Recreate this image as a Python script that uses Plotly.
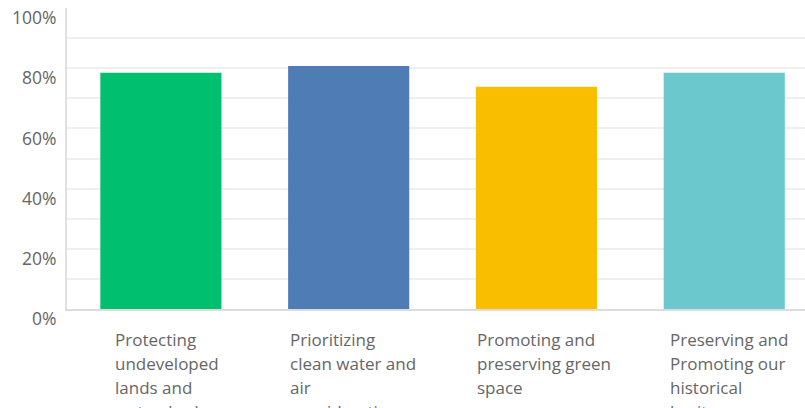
import plotly.graph_objects as go

categories = [
    "Protecting<br>undeveloped<br>lands and<br>watersheds",
    "Prioritizing<br>clean water and<br>air<br>considerations",
    "Promoting and<br>preserving green<br>space",
    "Preserving and<br>Promoting our<br>historical<br>heritage",
]
values = [78.5, 80.7, 73.8, 78.5]
colors = ["#00BF6F", "#507CB6", "#F9BE00", "#6BC8CD"]
y_ticks = [0, 20, 40, 60, 80, 100]
y_tick_labels = ["0%", "20%", "40%", "60%", "80%", "100%"]

# label start offsets (px) relative to category centre
label_shift = [-48, -60.5, -61.2, -56.5]

xpos = list(range(len(categories)))

fig = go.Figure(
    go.Bar(
        x=xpos,
        y=values,
        marker=dict(color=colors, line=dict(width=0)),
        width=0.645,
        hoverinfo="skip",
    )
)

annotations = []
line_gap = 24
for i, cat in enumerate(categories):
    for j, line in enumerate(cat.split("<br>")):
        annotations.append(
            dict(
                x=xpos[i], xref="x", y=0, yref="paper",
                text=line, showarrow=False,
                xanchor="left", yanchor="middle",
                xshift=label_shift[i], yshift=-(30.5 + j * line_gap),
                font=dict(family="Open Sans", size=17, color="#666666"),
                align="left",
            )
        )

fig.update_layout(
    width=805, height=408,
    margin=dict(l=67, r=0, t=7.5, b=98.5),
    paper_bgcolor="white", plot_bgcolor="white",
    showlegend=False,
    annotations=annotations,
    xaxis=dict(
        range=[-0.5, 3.43],
        showticklabels=False,
        showgrid=False, zeroline=False,
        showline=True, linecolor="#dcdcdc", linewidth=2,
        fixedrange=True,
    ),
    yaxis=dict(
        range=[0, 100],
        tickvals=y_ticks, ticktext=y_tick_labels,
        showgrid=True, gridcolor="#efefef", gridwidth=1.5,
        zeroline=False,
        showline=True, linecolor="#e0e0e0", linewidth=2,
        ticklabelshift=10,
        ticklabelstandoff=5,
        tickfont=dict(family="Open Sans", size=17.5, color="#666666"),
        fixedrange=True,
    ),
)
# minor gridlines at every 10%
fig.update_yaxes(minor=dict(tickvals=[10, 30, 50, 70, 90], showgrid=True, gridcolor="#efefef", gridwidth=1.5))

fig.write_html("out.html", config={"displayModeBar": False})
